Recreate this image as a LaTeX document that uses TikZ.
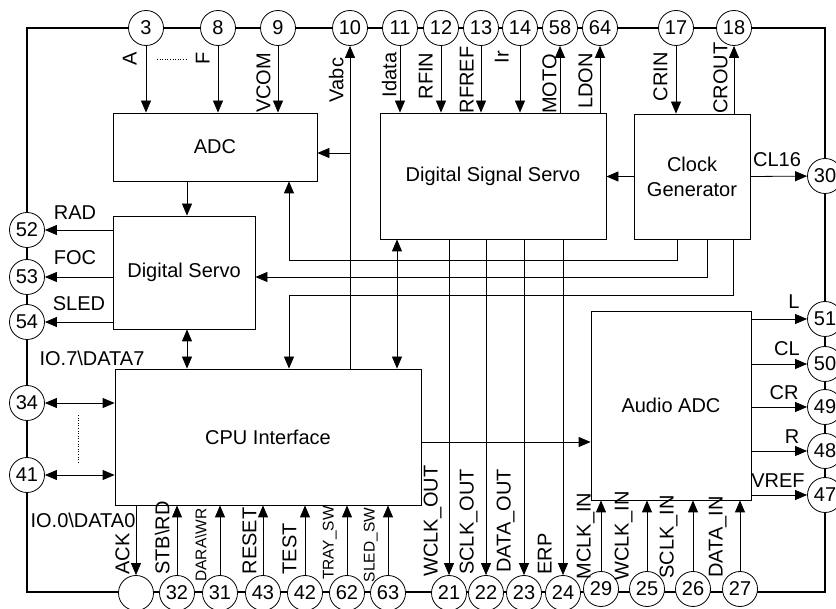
\documentclass[tikz,border=0pt]{standalone}
\usepackage{fontspec}
\setmainfont{Liberation Sans}
\usetikzlibrary{arrows.meta}

\begin{document}
\begin{tikzpicture}[x=1pt,y=-1pt,>={Triangle[length=12pt,width=10pt]},
  line width=0.8pt,font=\fontsize{20}{25}\selectfont,
  blk/.style={draw,inner sep=0pt,align=center},
  padc/.style={draw,circle,fill=white,minimum size=35pt,inner sep=0pt},
  vlab/.style={rotate=90,anchor=south,inner sep=0pt},
  slab/.style={vlab,font=\fontsize{15.5}{18}\selectfont}]
  \clip (0,0) rectangle (836,609);
  % outer frame
  \draw[line width=1.3pt] (27,28) rectangle (825,592);

  % blocks
  \node[blk,minimum width=204pt,minimum height=68pt] (adc) at (215,147) {ADC};
  \node[blk,minimum width=226pt,minimum height=126pt] (dss) at (493,176) {Digital Signal Servo};
  \node[blk,minimum width=116pt,minimum height=125pt] (clk) at (692,176.5) {Clock\\Generator};
  \node[blk,minimum width=142pt,minimum height=113pt] (ds) at (184,272.5) {Digital Servo};
  \node[blk,minimum width=306pt,minimum height=136pt] (cpu) at (268,437) {CPU Interface};
  \node[blk,minimum width=160pt,minimum height=189pt] (aadc) at (671,405.5) {Audio ADC};

  % pins
  \foreach \n/\x in {3/146,8/218,9/278,10/350,11/400,12/441,13/481,14/520,58/560,64/600,17/676,18/734}
    \node[padc] (p\n) at (\x,28) {\n};
  \foreach \n/\y in {30/176,51/319,50/364,49/407,48/451,47/495}
    \node[padc] (p\n) at (825,\y) {\n};
  \foreach \n/\y in {52/230,53/277,54/322,34/403,41/475}
    \node[padc] (p\n) at (27,\y) {\n};
  \foreach \n/\x in {32/177,31/220,43/263,42/305,62/347,63/388,21/449,22/486,23/524,24/563}
    \node[padc] (p\n) at (\x,593) {\n};
  \foreach \n/\x in {29/601,25/647,26/693,27/740}
    \node[padc] (p\n) at (\x,589) {\n};
  \node[padc] (ack) at (136,593) {};

  % top signals
  \foreach \n in {3,8,9} \draw[->] (p\n) -- (p\n |- adc.north);
  \foreach \n in {11,12,13,14} \draw[->] (p\n) -- (p\n |- dss.north);
  \foreach \n in {58,64} \draw[->] (dss.north -| p\n) -- (p\n);
  \draw[->] (p17) -- (p17 |- clk.north);
  \draw[->] (clk.north -| p18) -- (p18);
  \draw[->] (cpu.north -| p10) -- (p10);
  \coordinate (vb) at (350,153);
  \draw[->] (vb) -- (vb -| adc.east);
  \draw[dotted,line width=0.6pt] (157,59) -- (188,59);

  \node[vlab] at (137,59) {A};
  \node[vlab] at (210,58) {F};
  \node[vlab] at (271,83) {VCOM};
  \node[vlab] at (344,80) {Vabc};
  \node[vlab] at (397,75) {Idata};
  \node[vlab] at (433,76) {RFIN};
  \node[vlab] at (474,80) {RFREF};
  \node[vlab] at (509,57) {Ir};
  \node[vlab] at (557,84) {MOTO};
  \node[vlab] at (593,81) {LDON};
  \node[vlab] at (668,77) {CRIN};
  \node[vlab] at (728,78) {CROUT};

  % clock
  \draw[->] (clk.west) -- (clk.west -| dss.east);
  \draw[->] (clk.east) -- (p30);
  \node at (777,160) {CL16};
  \coordinate (fb1) at (289,260);
  \draw[->] ([xshift=-15pt]clk.south) |- (fb1) -- (fb1 |- adc.south);
  \draw[->] ([xshift=15pt]clk.south) |- (ds.east |- 0,277);
  \coordinate (fb3) at (289,295);
  \draw[->] ([xshift=41pt]clk.south) |- (fb3) -- (fb3 |- cpu.north);

  % servo paths
  \draw[<->] (dss.south -| 397,0) -- (cpu.north -| 397,0);
  \foreach \n in {21,22,23,24} \draw[->] (dss.south -| p\n) -- (p\n);
  \draw[->] (adc.south -| 187,0) -- (ds.north -| 187,0);
  \draw[<->] (ds.south -| 187,0) -- (cpu.north -| 187,0);
  \foreach \n in {52,53,54} \draw[->] (ds.west |- p\n) -- (p\n);
  \node at (75,213) {RAD};
  \node at (75,258) {FOC};
  \node at (79,304) {SLED};

  % cpu port
  \foreach \n in {34,41} \draw[<->] (p\n) -- (p\n -| cpu.west);
  \draw[dotted,line width=0.6pt] (78,415) -- (78,462);
  \node at (92,358) {IO.7\textbackslash DATA7};
  \node at (83,520) {IO.0\textbackslash DATA0};
  \draw[->] (cpu.south -| ack) -- (ack);
  \foreach \n in {32,31,43,42,62,63} \draw[->] (p\n) -- (p\n |- cpu.south);
  \node[vlab] at (130,554) {ACK};
  \node[vlab] at (170,538) {STB\textbackslash RD};
  \node[slab] at (207,545) {DARA\textbackslash WR};
  \node[vlab] at (257,541) {RESET};
  \node[vlab] at (297,549) {TEST};
  \node[slab] at (337,543) {TRAY\_SW};
  \node[slab] at (378,545) {SLED\_SW};
  \node[vlab] at (442,521) {WCLK\_OUT};
  \node[vlab] at (478,522) {SCLK\_OUT};
  \node[vlab] at (515,521) {DATA\_OUT};
  \node[vlab] at (552,554) {ERP};

  % audio adc
  \draw[->] (cpu.east |- 0,442) -- (aadc.west |- 0,442);
  \foreach \n in {29,25,26,27} \draw[->] (p\n) -- (p\n |- aadc.south);
  \node[vlab] at (595,536) {MCLK\_IN};
  \node[vlab] at (633,536) {WCLK\_IN};
  \node[vlab] at (678,537) {SCLK\_IN};
  \node[vlab] at (727,537) {DATA\_IN};
  \foreach \n in {51,50,49,48,47} \draw[->] (aadc.east |- p\n) -- (p\n);
  \node at (794,302) {L};
  \node at (787,349) {CL};
  \node at (784,393) {CR};
  \node at (792,437) {R};
  \node at (778,481) {VREF};
\end{tikzpicture}
\end{document}
